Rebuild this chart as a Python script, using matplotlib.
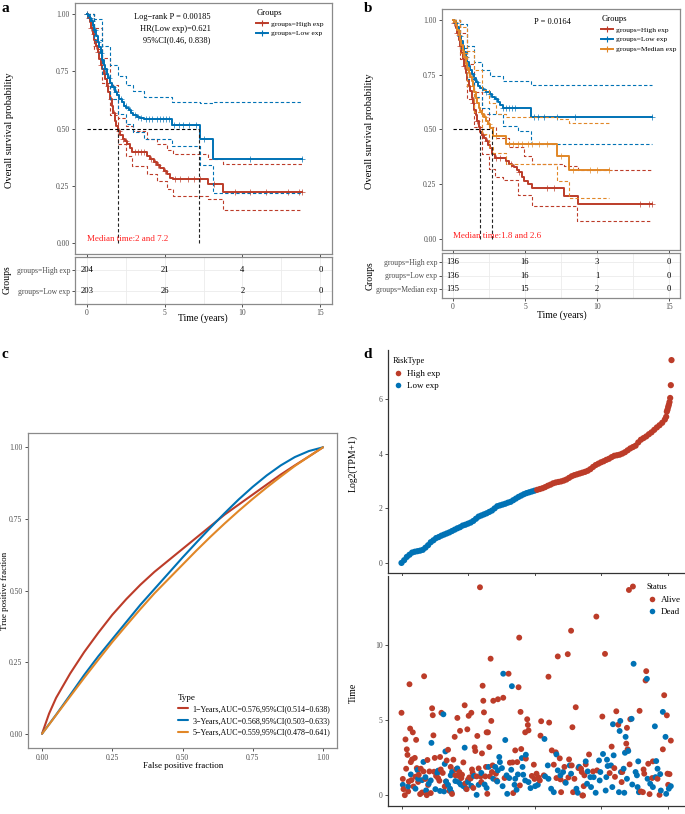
import numpy as np
import matplotlib
matplotlib.use('Agg')
import matplotlib.pyplot as plt
from matplotlib.lines import Line2D

plt.rcParams['font.family'] = ['Liberation Serif', 'DejaVu Serif']

RED = '#BC3C29'
BLUE = '#0072B5'
ORANGE = '#E18727'
GRAY = '#4D4D4D'
FRAME = '#8A8A8A'

# ---------------- panel a : KM, two groups ----------------
a_high_t = [0, 0.1, 0.2, 0.3, 0.4, 0.5, 0.6, 0.7, 0.8, 0.9, 1.0, 1.1, 1.2, 1.3, 1.4, 1.5, 1.6, 1.7, 1.8, 1.9,
            2.0, 2.15, 2.3, 2.45, 2.6, 2.75, 2.9, 3.86, 4.05, 4.29, 4.5, 4.72, 4.95, 5.15, 5.35, 5.54, 7.77, 8.73, 13.84]
a_high_s = [1.0, 0.985, 0.965, 0.94, 0.915, 0.888, 0.86, 0.835, 0.805, 0.78, 0.76, 0.74, 0.715, 0.685, 0.66, 0.63,
            0.60, 0.57, 0.535, 0.51, 0.49, 0.47, 0.455, 0.445, 0.43, 0.415, 0.397, 0.38, 0.365, 0.353, 0.34, 0.328,
            0.315, 0.30, 0.285, 0.277, 0.255, 0.222, 0.222]
a_high_up_t = [0, 0.5, 1.0, 1.5, 2.0, 2.5, 3.0, 3.86, 4.5, 5.15, 5.54, 7.77, 8.73, 13.84]
a_high_up_s = [1.0, 0.94, 0.81, 0.69, 0.545, 0.51, 0.489, 0.452, 0.43, 0.405, 0.387, 0.365, 0.346, 0.346]
a_high_lo_t = [0, 0.5, 1.0, 1.5, 2.0, 2.5, 2.9, 3.86, 4.5, 5.15, 5.54, 7.77, 8.73, 13.84]
a_high_lo_s = [1.0, 0.85, 0.70, 0.56, 0.43, 0.38, 0.335, 0.30, 0.27, 0.235, 0.205, 0.19, 0.143, 0.143]
a_high_cens = [0.05, 0.15, 0.3, 0.45, 0.6, 0.75, 0.95, 1.15, 1.35, 1.55, 1.75, 2.1, 2.35, 2.55, 3.1, 3.3, 3.5,
               3.7, 4.1, 4.4, 4.6, 5.0, 5.7, 6.0, 6.5, 6.9, 7.3, 8.2, 9.5, 10.5, 11.5, 12.9, 13.6, 13.84]

a_low_t = [0, 0.1, 0.2, 0.3, 0.4, 0.5, 0.6, 0.7, 0.8, 0.9, 1.0, 1.1, 1.2, 1.3, 1.4, 1.5, 1.65, 1.8, 1.95, 2.1,
           2.25, 2.4, 2.55, 2.7, 2.85, 3.0, 3.2, 3.4, 3.65, 5.45, 7.25, 8.1, 13.84]
a_low_s = [1.0, 0.995, 0.985, 0.97, 0.95, 0.93, 0.905, 0.88, 0.855, 0.83, 0.80, 0.78, 0.76, 0.74, 0.72, 0.70,
           0.68, 0.66, 0.645, 0.63, 0.615, 0.60, 0.59, 0.58, 0.57, 0.56, 0.552, 0.545, 0.540, 0.514, 0.455, 0.365, 0.365]
a_low_up_t = [0, 0.5, 1.0, 1.5, 2.0, 2.5, 3.0, 3.65, 5.45, 7.25, 8.1, 13.84]
a_low_up_s = [1.0, 0.98, 0.86, 0.78, 0.73, 0.69, 0.665, 0.64, 0.616, 0.61, 0.616, 0.616]
a_low_lo_t = [0, 0.5, 1.0, 1.5, 2.0, 2.5, 3.0, 3.65, 5.45, 7.25, 8.1, 13.84]
a_low_lo_s = [1.0, 0.89, 0.74, 0.63, 0.565, 0.52, 0.485, 0.455, 0.423, 0.34, 0.216, 0.216]
a_low_cens = [0.05, 0.2, 0.35, 0.55, 0.75, 0.95, 1.2, 1.45, 1.7, 1.9, 2.2, 2.5, 2.8, 3.1, 3.3, 3.5, 3.8, 4.0,
              4.2, 4.5, 4.7, 4.9, 5.1, 5.3, 5.6, 5.9, 6.2, 6.6, 7.0, 7.5, 10.5, 13.84]
a_medians = [2, 7.2]

a_groups = ['groups=High exp', 'groups=Low exp']
a_risk = [[204, 21, 4, 0], [203, 26, 2, 0]]

# ---------------- panel b : KM, three groups ----------------
b_high_t = [0, 0.1, 0.2, 0.3, 0.4, 0.5, 0.6, 0.7, 0.8, 0.9, 1.0, 1.1, 1.2, 1.3, 1.4, 1.5, 1.6, 1.7, 1.8, 1.9, 2.0,
            2.15, 2.3, 2.45, 2.6, 2.75, 2.9, 3.68, 3.91, 4.1, 4.25, 4.45, 4.6, 4.8, 4.93, 5.23, 5.5, 7.73, 8.68, 13.8]
b_high_s = [1.0, 0.985, 0.965, 0.94, 0.91, 0.88, 0.85, 0.82, 0.79, 0.76, 0.725, 0.70, 0.675, 0.645, 0.62, 0.59,
            0.565, 0.54, 0.51, 0.49, 0.475, 0.46, 0.448, 0.43, 0.415, 0.39, 0.372, 0.355, 0.342, 0.335, 0.327,
            0.315, 0.304, 0.285, 0.266, 0.251, 0.231, 0.198, 0.16, 0.16]
b_high_up_t = [0, 0.5, 1.0, 1.5, 2.0, 2.5, 3.0, 3.91, 4.93, 5.5, 7.73, 8.68, 13.8]
b_high_up_s = [1.0, 0.94, 0.80, 0.67, 0.57, 0.51, 0.46, 0.42, 0.38, 0.342, 0.334, 0.316, 0.316]
b_high_lo_t = [0, 0.5, 1.0, 1.5, 2.0, 2.5, 2.9, 3.5, 4.5, 5.5, 8.64, 13.8]
b_high_lo_s = [1.0, 0.82, 0.64, 0.51, 0.39, 0.32, 0.285, 0.27, 0.20, 0.152, 0.084, 0.084]
b_high_cens = [0.1, 0.3, 0.5, 0.8, 1.1, 1.4, 1.7, 2.1, 2.4, 3.0, 3.3, 4.0, 4.6, 6.5, 7.0, 13.0, 13.6, 13.8]

b_low_t = [0, 0.1, 0.2, 0.3, 0.4, 0.5, 0.6, 0.7, 0.8, 0.9, 1.0, 1.1, 1.2, 1.3, 1.45, 1.6, 1.75, 1.9, 2.1, 2.3,
           2.55, 2.75, 2.9, 3.1, 3.25, 3.45, 5.43, 13.8]
b_low_s = [1.0, 0.995, 0.985, 0.97, 0.95, 0.927, 0.905, 0.88, 0.855, 0.83, 0.81, 0.79, 0.77, 0.755, 0.735, 0.715,
           0.70, 0.69, 0.68, 0.67, 0.661, 0.65, 0.64, 0.625, 0.61, 0.60, 0.555, 0.555]
b_low_up_t = [0, 0.5, 1.0, 1.5, 2.0, 2.55, 3.45, 5.43, 13.8]
b_low_up_s = [1.0, 0.98, 0.88, 0.81, 0.77, 0.745, 0.72, 0.702, 0.702]
b_low_lo_t = [0, 0.5, 1.0, 1.5, 2.0, 2.5, 3.45, 4.5, 5.43, 13.8]
b_low_lo_s = [1.0, 0.87, 0.73, 0.65, 0.60, 0.57, 0.517, 0.494, 0.433, 0.433]
b_low_cens = [0.2, 0.5, 0.9, 1.3, 1.7, 2.0, 2.3, 2.6, 3.0, 3.5, 3.7, 3.9, 4.1, 4.3, 5.6, 5.9, 6.3, 7.2, 8.5, 13.8]

b_med_t = [0, 0.1, 0.2, 0.3, 0.4, 0.5, 0.6, 0.7, 0.8, 0.9, 1.0, 1.1, 1.2, 1.3, 1.4, 1.5, 1.6, 1.7, 1.8, 1.9, 2.0,
           2.15, 2.3, 2.45, 2.6, 2.77, 3.68, 7.25, 8.05, 10.84]
b_med_s = [1.0, 0.99, 0.975, 0.955, 0.93, 0.91, 0.885, 0.86, 0.83, 0.80, 0.78, 0.76, 0.74, 0.72, 0.70, 0.67,
           0.645, 0.62, 0.60, 0.585, 0.57, 0.555, 0.54, 0.525, 0.505, 0.471, 0.433, 0.38, 0.316, 0.316]
b_med_up_t = [0, 0.5, 1.0, 1.5, 2.0, 2.5, 3.0, 3.68, 7.25, 8.05, 10.84]
b_med_up_s = [1.0, 0.97, 0.86, 0.77, 0.68, 0.62, 0.57, 0.558, 0.547, 0.529, 0.529]
b_med_lo_t = [0, 0.5, 1.0, 1.5, 2.0, 2.5, 2.77, 3.68, 7.25, 8.05, 10.84]
b_med_lo_s = [1.0, 0.85, 0.70, 0.58, 0.48, 0.42, 0.395, 0.342, 0.266, 0.187, 0.187]
b_med_cens = [0.15, 0.45, 0.85, 1.25, 1.6, 2.2, 2.5, 3.0, 3.9, 4.2, 4.5, 4.8, 5.2, 5.5, 6.0, 6.5, 7.5, 8.3,
              9.5, 10.0, 10.84]
b_medians = [1.85, 2.7]

b_groups = ['groups=High exp', 'groups=Low exp', 'groups=Median exp']
b_risk = [[136, 16, 3, 0], [136, 16, 1, 0], [135, 15, 2, 0]]
risk_times = [0, 5, 10, 15]

# ---------------- panel c : time dependent ROC ----------------
roc_fpr = [0, 0.025, 0.05, 0.1, 0.15, 0.2, 0.25, 0.3, 0.35, 0.4, 0.45, 0.5, 0.55, 0.6, 0.65, 0.7, 0.75, 0.8,
           0.85, 0.9, 0.95, 1.0]
roc_1y = [0, 0.07, 0.125, 0.21, 0.285, 0.352, 0.415, 0.47, 0.52, 0.565, 0.605, 0.645, 0.685, 0.725, 0.765, 0.80,
          0.835, 0.87, 0.905, 0.937, 0.968, 1.0]
roc_3y = [0, 0.033, 0.066, 0.135, 0.205, 0.27, 0.33, 0.39, 0.45, 0.505, 0.56, 0.615, 0.668, 0.72, 0.77, 0.818,
          0.862, 0.902, 0.937, 0.966, 0.987, 1.0]
roc_5y = [0, 0.032, 0.065, 0.13, 0.195, 0.258, 0.32, 0.378, 0.435, 0.49, 0.54, 0.59, 0.64, 0.688, 0.734, 0.778,
          0.82, 0.86, 0.898, 0.935, 0.968, 1.0]
roc_labels = ['1\u2212Years,AUC=0.576,95%CI(0.514\u22120.638)',
              '3\u2212Years,AUC=0.568,95%CI(0.503\u22120.633)',
              '5\u2212Years,AUC=0.559,95%CI(0.478\u22120.641)']

# ---------------- panel d : risk plot ----------------
expr_rank = list(range(0, 400, 4)) + [398, 399, 400, 401, 402, 403, 404, 405, 406]
expr_value = [0.00, 0.10, 0.22, 0.30, 0.38, 0.41, 0.43, 0.45, 0.48, 0.56,
              0.65, 0.76, 0.83, 0.91, 0.95, 1.00, 1.04, 1.08, 1.12, 1.17,
              1.22, 1.27, 1.31, 1.37, 1.40, 1.44, 1.48, 1.54, 1.62, 1.70,
              1.74, 1.78, 1.82, 1.87, 1.92, 2.00, 2.08, 2.11, 2.14, 2.17,
              2.21, 2.24, 2.30, 2.36, 2.42, 2.47, 2.52, 2.56, 2.59, 2.62,
              2.65, 2.68, 2.71, 2.74, 2.78, 2.83, 2.87, 2.92, 2.95, 2.97,
              2.99, 3.02, 3.06, 3.12, 3.18, 3.22, 3.25, 3.28, 3.31, 3.34,
              3.38, 3.44, 3.52, 3.59, 3.64, 3.69, 3.73, 3.78, 3.82, 3.88,
              3.93, 3.95, 3.97, 4.01, 4.06, 4.13, 4.20, 4.25, 4.30, 4.42,
              4.52, 4.58, 4.64, 4.72, 4.79, 4.88, 4.97, 5.05, 5.14, 5.26,
              5.36, 5.55, 5.62, 5.72, 5.80, 5.90, 6.05, 6.52, 7.44]
n_low = 203  # samples ranked below this are "Low exp"

alive_idx = [0, 3, 5, 10, 6, 8, 9, 12, 13, 17, 22, 16, 14, 20, 7, 23, 29, 11, 15, 21, 26, 28, 31, 38, 44,
             34, 46, 47, 48, 39, 50, 58, 42, 49, 60, 59, 55, 57, 67, 68, 70, 72, 78, 80, 82, 84, 81, 86, 87, 88,
             90, 91, 95, 98, 99, 100, 102, 101, 105, 106, 107, 104, 110, 111, 113, 114, 118, 119, 121, 122, 123,
             124, 126, 128, 127, 129, 130, 132, 133, 134, 135,
             2, 18, 25, 33, 36, 40, 52, 62, 65, 74, 76, 93, 96, 108, 116, 120,
             137, 136, 142, 138, 145, 153, 161, 177, 176, 179, 189, 190, 191, 186, 210, 222, 209, 255, 235, 250,
             221, 262, 257, 171, 180, 226, 232, 238, 252, 163, 167, 174, 187, 199, 229, 245, 256, 266, 271, 196,
             200, 203, 206, 208, 239, 251, 260, 246, 155, 143, 178, 168, 240, 258, 273, 233, 214,
             342, 348, 293, 306, 368, 367, 395, 399, 323, 358, 302, 326, 339, 344, 338, 340, 316, 405, 393, 282,
             343, 371, 378, 320, 313, 321, 277, 270, 275, 288, 294, 332, 364, 365, 377, 385, 403, 274, 272, 360,
             363, 373, 388, 401, 331, 400]
alive_time = [5.5, 0.42, 0.02, 0.27, 3.73, 3.07, 2.7, 7.4, 4.45, 4.2, 3.7, 2.4, 2.22, 2.5, 1.78, 1.82, 1.78,
              0.93, 1.02, 1.25, 1.38, 0.09, 0.2, 0.02, 0.16,
              7.93, 5.8, 5.34, 4.0, 2.36, 2.5, 2.56, 1.6, 1.58, 5.5, 1.73, 1.16, 0.98, 0.93, 2.33, 3.04, 0.31,
              2.38, 3.9, 1.73, 5.16, 1.34, 1.3, 1.56, 4.3, 1.16, 1.38, 6.0, 0.42, 4.4, 1.05, 1.2, 5.3, 5.5, 1.73,
              1.5, 1.13, 3.2, 2.96, 1.27, 3.96, 13.85, 1.27, 2.8, 7.3, 6.3, 5.53, 1.27, 4.2, 1.9, 0.11, 4.2, 3.22,
              1.27, 9.1, 4.96,
              1.1, 0.6, 0.9, 1.6, 1.1, 0.7, 1.3, 1.5, 0.6, 1.9, 0.1, 2.2, 0.8, 0.5, 1.8, 0.9,
              2.0, 1.56, 1.45, 6.3, 6.4, 6.5, 8.1, 10.5, 7.2, 5.56, 5.07, 4.69, 4.33, 4.2, 4.94, 4.85, 3.98,
              10.96, 9.25, 9.4, 7.9, 5.87, 4.54, 3.0, 3.09, 3.0, 2.87, 2.47, 2.4, 2.18, 2.2, 2.22, 2.45, 2.05,
              2.05, 1.9, 2.0, 1.82, 1.56, 1.3, 1.1, 1.45, 1.2, 1.0, 1.07, 1.2, 1.11, 0.9, 1.16, 1.0, 0.67, 0.16,
              0.22, 0.22, 0.0, 1.16, 1.34,
              13.67, 13.9, 11.9, 9.42, 8.27, 7.65, 6.67, 5.33, 5.6, 5.63, 5.25, 4.71, 4.5, 5.07, 3.45, 3.07,
              3.25, 3.65, 3.07, 2.73, 2.07, 2.11, 2.27, 1.82, 1.49, 1.24, 2.07, 1.78, 1.34, 1.6, 1.67, 1.56,
              1.73, 1.45, 1.16, 1.11, 1.42, 0.62, 0.0, 0.27, 0.22, 0.09, 0.04, 0.71, 0.89, 1.45]

dead_idx = [63, 45, 95, 66, 65, 33, 55, 54, 74, 76, 24, 2, 25, 36, 41, 31, 21, 37, 51, 67, 70, 73, 75, 64, 81,
            86, 89, 93, 97, 105, 113, 116, 125, 10, 14, 44, 58, 84, 100, 109, 120, 128, 131,
            153, 166, 156, 215, 147, 148, 151, 145, 141, 187, 181, 165, 182, 183, 220, 233, 235, 239, 243, 253,
            267, 138, 144, 158, 162, 171, 175, 186, 191, 194, 201, 205, 216, 221, 225, 229, 247, 263, 265, 152,
            159, 170, 173, 255,
            349, 369, 393, 397, 381, 318, 329, 328, 337, 346, 336, 341, 319, 303, 297, 309, 277, 356, 383, 310,
            315, 334, 330, 352, 354, 385, 389, 382, 299, 289, 280, 284, 279, 285, 292, 307, 317, 327, 335, 347,
            355, 357, 374, 378, 390, 398, 405, 402, 298, 308, 370, 339]
dead_time = [5.4, 3.5, 3.18, 2.93, 2.1, 2.23, 1.65, 1.5, 1.34, 1.56, 1.69, 0.71, 1.11, 1.22, 0.78, 1.02, 0.45,
             0.34, 0.42, 0.93, 0.71, 0.45, 0.22, 0.27, 0.96, 0.89, 0.73, 0.62, 0.45, 0.64, 0.04, 0.71, 0.73,
             0.6, 1.4, 1.0, 0.3, 1.8, 0.9, 1.3, 1.5, 0.5, 1.9,
             8.1, 7.27, 3.69, 3.76, 2.56, 2.22, 1.82, 1.67, 1.9, 2.71, 2.49, 1.71, 1.9, 1.38, 2.0, 2.73, 1.67,
             1.34, 1.56, 2.0, 1.91, 1.11, 0.93, 1.34, 1.16, 1.11, 1.4, 1.0, 0.89, 0.49, 0.62, 0.71, 1.27, 1.11,
             0.45, 0.22, 0.84, 0.45, 0.18, 0.62, 0.11, 0.71, 0.38, 1.45,
             8.76, 7.76, 5.56, 3.9, 4.6, 4.74, 4.96, 4.29, 3.9, 5.1, 2.84, 2.96, 2.67, 2.76, 2.33, 2.38, 2.27,
             2.27, 2.29, 1.96, 2.0, 1.78, 1.56, 1.56, 1.34, 1.78, 1.42, 1.22, 1.56, 1.22, 1.6, 1.22, 0.78, 0.56,
             0.18, 0.33, 0.56, 0.22, 0.18, 0.73, 0.56, 0.22, 0.78, 0.56, 0.33, 0.11, 0.62, 0.45, 1.0, 1.22,
             1.11, 1.11]

# ---------------- figure ----------------
W, H = 685, 814
fig = plt.figure(figsize=(W / 100, H / 100), dpi=100)


def add_ax(x0, y0, x1, y1):
    # pixel box (top-left origin) -> figure axes
    return fig.add_axes([x0 / W, 1 - y1 / H, (x1 - x0) / W, (y1 - y0) / H])


def fxy(px, py):
    return (px / W, 1 - py / H)


def box_frame(ax, color=FRAME):
    for s in ax.spines.values():
        s.set_color(color)
        s.set_linewidth(0.9)


def km_axes(ax, curves, medians, leg_anchor, median_text):
    ax.set_xlim(-0.75, 15.75)
    ax.set_ylim(-0.05, 1.05)
    box_frame(ax)
    ax.set_xticks(risk_times)
    ax.set_xticklabels([])
    ax.set_yticks([0, 0.25, 0.5, 0.75, 1.0])
    ax.set_yticklabels(['0.00', '0.25', '0.50', '0.75', '1.00'])
    ax.tick_params(labelsize=5.5, labelcolor=GRAY, length=2.5, width=0.6, color='#333333', pad=1.5)
    handles = []
    for t, s, ut, us, lt, ls, cens, col, lab in curves:
        ax.step(ut, us, where='post', color=col, lw=0.8, ls=(0, (3, 2)))
        ax.step(lt, ls, where='post', color=col, lw=0.8, ls=(0, (3, 2)))
        ax.step(t, s, where='post', color=col, lw=1.4)
        k = np.searchsorted(t, cens, side='right') - 1
        ax.plot(cens, np.array(s)[k], ls='none', marker='+', ms=4, mew=0.6, color=col, alpha=0.8)
        handles.append(Line2D([0], [0], color=col, lw=1.4, marker='+', ms=5, mew=0.8, label=lab))
    ax.plot([0, max(medians)], [0.5, 0.5], color='black', lw=0.8, ls=(0, (3, 2)))
    for m in medians:
        ax.plot([m, m], [0, 0.5], color='#222222', lw=0.8, ls=(0, (3, 2)))
    ax.text(0, 0.015, median_text, color='#FF2020', fontsize=6.5, ha='left', va='center')
    leg = ax.legend(handles=handles, title='Groups', loc='upper left', bbox_to_anchor=leg_anchor,
                    bbox_transform=fig.transFigure, frameon=False, fontsize=5.4, title_fontsize=6.2,
                    handlelength=1.6, handletextpad=0.4, labelspacing=0.45, borderpad=0.2)
    leg._legend_box.align = 'left'


def risk_table(ax, groups, risk, ylim, label_y, xlabel_xy, ylabel_x):
    n = len(groups)
    rows = list(range(n - 1, -1, -1))
    ax.set_xlim(-0.75, 15.75)
    ax.set_ylim(*ylim)
    box_frame(ax)
    ax.set_xticks(risk_times)
    ax.set_xticks([2.5, 7.5, 12.5], minor=True)
    ax.set_yticks(rows)
    ax.set_yticklabels(groups)
    ax.grid(True, which='both', color='#EBEBEB', lw=0.6)
    ax.set_axisbelow(True)
    ax.tick_params(labelsize=5.5, labelcolor=GRAY, length=2, width=0.6, color='#333333', pad=1.5)
    ax.tick_params(which='minor', length=0)
    for r, vals in zip(rows, risk):
        for t, v in zip(risk_times, vals):
            ax.text(t, r, str(v), ha='center', va='center', fontsize=6.2)
    fig.text(*fxy(*xlabel_xy), 'Time (years)', ha='center', va='center', fontsize=7)
    fig.text(*fxy(ylabel_x, label_y), 'Groups', rotation=90, ha='center', va='center', fontsize=7)


# panel a
axA = add_ax(75, 3, 332, 254)
km_axes(axA,
        [(a_high_t, a_high_s, a_high_up_t, a_high_up_s, a_high_lo_t, a_high_lo_s, a_high_cens, RED, a_groups[0]),
         (a_low_t, a_low_s, a_low_up_t, a_low_up_s, a_low_lo_t, a_low_lo_s, a_low_cens, BLUE, a_groups[1])],
        a_medians, fxy(251, 4), 'Median time:2 and 7.2')
axA.text(7.97, 0.99, 'Log\u2212rank P = 0.00185', ha='right', va='center', fontsize=6)
axA.text(7.97, 0.937, 'HR(Low exp)=0.621', ha='right', va='center', fontsize=6)
axA.text(7.97, 0.887, '95%CI(0.46, 0.838)', ha='right', va='center', fontsize=6)
fig.text(*fxy(10, 130), 'Overall survival probability', rotation=90, ha='center', va='center', fontsize=7.5)

axAt = add_ax(75, 257, 332, 304)
risk_table(axAt, a_groups, a_risk, (-0.62, 1.62), 280, (203, 318), 7)

# panel b
axB = add_ax(442, 9, 680, 250)
km_axes(axB,
        [(b_high_t, b_high_s, b_high_up_t, b_high_up_s, b_high_lo_t, b_high_lo_s, b_high_cens, RED, b_groups[0]),
         (b_low_t, b_low_s, b_low_up_t, b_low_up_s, b_low_lo_t, b_low_lo_s, b_low_cens, BLUE, b_groups[1]),
         (b_med_t, b_med_s, b_med_up_t, b_med_up_s, b_med_lo_t, b_med_lo_s, b_med_cens, ORANGE, b_groups[2])],
        b_medians, fxy(596, 10), 'Median time:1.8 and 2.6')
axB.text(6.92, 0.99, 'P = 0.0164', ha='center', va='center', fontsize=6)
fig.text(*fxy(370, 131), 'Overall survival probability', rotation=90, ha='center', va='center', fontsize=7.5)

axBt = add_ax(442, 253, 680, 298)
risk_table(axBt, b_groups, b_risk, (-0.62, 2.62), 276, (562, 315), 370)

# panel c
axC = add_ax(28, 433, 337, 748)
axC.set_xlim(-0.05, 1.05)
axC.set_ylim(-0.05, 1.05)
box_frame(axC)
ticks = [0, 0.25, 0.5, 0.75, 1.0]
tick_lab = ['0.00', '0.25', '0.50', '0.75', '1.00']
axC.set_xticks(ticks)
axC.set_xticklabels(tick_lab)
axC.set_yticks(ticks)
axC.set_yticklabels(tick_lab)
axC.tick_params(labelsize=5.5, labelcolor=GRAY, length=2.5, width=0.6, color='#333333', pad=1.5)
for vals, col, lab in [(roc_1y, RED, roc_labels[0]), (roc_3y, BLUE, roc_labels[1]), (roc_5y, ORANGE, roc_labels[2])]:
    axC.plot(roc_fpr, vals, color=col, lw=1.5, label=lab, solid_capstyle='round')
leg = axC.legend(title='Type', loc='upper left', bbox_to_anchor=fxy(172, 688), bbox_transform=fig.transFigure,
                 frameon=False, fontsize=5.8, title_fontsize=6.5, handlelength=1.3, handletextpad=0.5,
                 labelspacing=0.45, borderpad=0.2)
leg._legend_box.align = 'left'
fig.text(*fxy(5, 591), 'True positive fraction', rotation=90, ha='center', va='center', fontsize=6.5)
fig.text(*fxy(183, 766), 'False positive fraction', ha='center', va='center', fontsize=6.5)

# panel d, top: sorted expression
axD1 = add_ax(388, 350, 685, 573)
expr_col = [BLUE if r < n_low else RED for r in expr_rank]
axD1.scatter(expr_rank, expr_value, c=expr_col, s=20, linewidths=0)
axD1.set_xlim(-20.3, 426.3)
axD1.set_ylim(-0.37, 7.81)
axD1.set_xticks([0, 100, 200, 300, 400])
axD1.set_xticklabels([])
axD1.set_yticks([0, 2, 4, 6])
for side in ['top', 'right']:
    axD1.spines[side].set_visible(False)
for side in ['left', 'bottom']:
    axD1.spines[side].set_color('#333333')
    axD1.spines[side].set_linewidth(0.9)
axD1.tick_params(labelsize=5.5, labelcolor=GRAY, length=2.5, width=0.6, color='#333333', pad=1.5)
h1 = [Line2D([0], [0], ls='none', marker='o', ms=4, mew=0, color=RED, label='High exp'),
      Line2D([0], [0], ls='none', marker='o', ms=4, mew=0, color=BLUE, label='Low exp')]
leg = axD1.legend(handles=h1, title='RiskType', loc='upper left', bbox_to_anchor=fxy(386, 351),
                  bbox_transform=fig.transFigure, frameon=False, fontsize=6.5, title_fontsize=6,
                  handlelength=1.2, handletextpad=0.4, labelspacing=0.45, borderpad=0.2)
leg._legend_box.align = 'left'
fig.text(*fxy(353, 463), 'Log2(TPM+1)', rotation=90, ha='center', va='center', fontsize=7)

# panel d, bottom: survival time by status
axD2 = add_ax(388, 576, 685, 806)
pts_idx = np.array(alive_idx + dead_idx)
pts_time = np.array(alive_time + dead_time)
pts_col = np.array([RED] * len(alive_idx) + [BLUE] * len(dead_idx))
order = np.argsort(pts_idx, kind='stable')
axD2.scatter(pts_idx[order], pts_time[order], c=pts_col[order], s=18, linewidths=0)
axD2.set_xlim(-20.3, 426.3)
axD2.set_ylim(-0.7, 14.6)
axD2.set_xticks([0, 100, 200, 300, 400])
axD2.set_xticklabels([])
axD2.set_yticks([0, 5, 10])
for side in ['top', 'right']:
    axD2.spines[side].set_visible(False)
for side in ['left', 'bottom']:
    axD2.spines[side].set_color('#333333')
    axD2.spines[side].set_linewidth(0.9)
axD2.tick_params(labelsize=5.5, labelcolor=GRAY, length=2.5, width=0.6, color='#333333', pad=1.5)
h2 = [Line2D([0], [0], ls='none', marker='o', ms=4, mew=0, color=RED, label='Alive'),
      Line2D([0], [0], ls='none', marker='o', ms=4, mew=0, color=BLUE, label='Dead')]
leg = axD2.legend(handles=h2, title='Status', loc='upper left', bbox_to_anchor=fxy(640, 577),
                  bbox_transform=fig.transFigure, frameon=False, fontsize=6.5, title_fontsize=6,
                  handlelength=1.2, handletextpad=0.4, labelspacing=0.45, borderpad=0.2)
leg._legend_box.align = 'left'
fig.text(*fxy(353, 693), 'Time', rotation=90, ha='center', va='center', fontsize=7)

# panel letters
for lab, x, y in [('a', 5, 9), ('b', 368, 8), ('c', 5, 354), ('d', 368, 355)]:
    fig.text(*fxy(x, y), lab, fontsize=11, fontweight='bold', ha='center', va='center')

fig.savefig('out.png', dpi=100)
